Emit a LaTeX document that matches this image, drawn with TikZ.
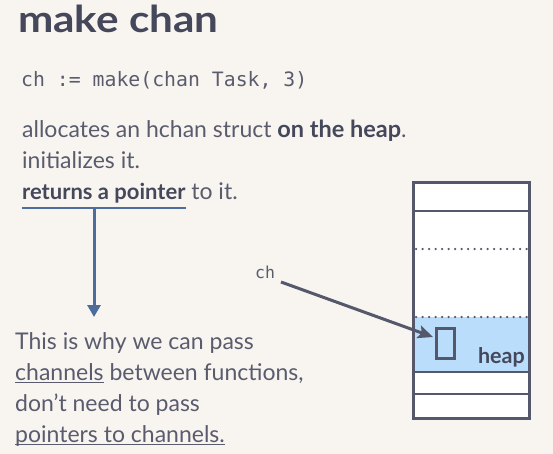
\documentclass[tikz,border=0pt]{standalone}
\usepackage{fontspec}
\setmainfont{Lato}
\newfontfamily\codefont{DejaVu Sans Mono}
\newfontfamily\titlefont[FakeStretch=1.14]{Lato}
\usetikzlibrary{arrows.meta}
\definecolor{bg}{HTML}{F8F5F0}
\definecolor{txt}{HTML}{5A5C6E}
\definecolor{dark}{HTML}{45475A}
\definecolor{accent}{HTML}{4D6E9C}
\definecolor{heapblue}{HTML}{B9DDFB}
\definecolor{memline}{HTML}{55576A}
\newcommand\myul[1]{\setbox0\hbox{#1}\rlap{\rule[-3pt]{\wd0}{1.2pt}}\box0\relax}
\newcommand\bt[2][22]{{\fontsize{#1}{26}\selectfont\bfseries\color{dark}#2}}
\begin{document}
\begin{tikzpicture}[x=1pt,y=-1pt,
  txtline/.style={anchor=base west, inner sep=0pt, text=txt, font=\fontsize{23}{27}\selectfont},
  codeline/.style={anchor=base west, inner sep=0pt, text=txt, font=\codefont\fontsize{19.8}{24}\selectfont},
  solidsep/.style={draw=memline, line width=2pt},
  dotsep/.style={draw=memline, line width=2.5pt, line cap=round, dash pattern=on 0pt off 6.5pt},
  ptr/.style={draw=memline, line width=3pt, -{Stealth[length=15pt,width=13pt,inset=3pt]}},
  down/.style={draw=accent, line width=3pt, -{Triangle[length=12pt,width=13pt]}}]
\fill[bg] (0,0) rectangle (553,454);
\useasboundingbox (0,0) rectangle (553,454);

% title and code
\node[anchor=base west, inner sep=0pt, text=dark, font=\titlefont\fontsize{37}{44}\selectfont\bfseries] (title) at (18,33) {make chan};
\node[codeline] (code) at (21,87) {ch := make(chan Task, 3)};

% explanation
\node[txtline] (l1) at (22,138) {allocates an hchan struct \bt[23.5]{on the heap}.};
\node[txtline] (l2) at (22,169) {initializes it.};
\node[txtline] (l3) at (22,200) {\bt{returns a pointer} to it.};

\coordinate (ulA) at (22,208);
\coordinate (ulB) at (186,208);
\coordinate (ulM) at (94,208);
\draw[accent, line width=2.6pt] (ulA) -- (ulB);

% bottom text
\node[txtline] (b1) at (15,349) {This is why we can pass};
\node[txtline] (b2) at (15,380) {\myul{channels} between functions,};
\node[txtline] (b3) at (15,411) {don’t need to pass};
\node[txtline] (b4) at (15,442) {\myul{pointers to channels.}};
\coordinate (arrEnd) at (94,317);
\draw[down] (ulM) -- (arrEnd);

% memory column
\fill[white] (413,183) rectangle (529,418);
\fill[heapblue] (413,317) rectangle (529,372);
\draw[solidsep] (413,211) -- (529,211);
\draw[dotsep] (416,249) -- (529,249);
\draw[dotsep] (416,317) -- (529,317);
\draw[solidsep] (413,372) -- (529,372);
\draw[solidsep] (413,394) -- (529,394);
\node[draw=memline, line width=3pt, minimum width=116pt, minimum height=235pt, inner sep=0pt] (mem) at (471,300.5) {};
\node[draw=memline, line width=3pt, minimum width=18pt, minimum height=30pt, inner sep=0pt] (slot) at (445,343.5) {};
\node[anchor=base east, inner sep=0pt, text=dark, font=\fontsize{21.5}{26}\selectfont\bfseries] (heap) at (525,363) {heap};

% pointer
\node[anchor=base west, inner sep=0pt, text=txt, font=\codefont\fontsize{16.5}{20}\selectfont] (ch) at (255,278) {ch};
\coordinate (chTail) at (281,282);
\coordinate (slotTip) at (433,337);
\draw[ptr] (chTail) -- (slotTip);
\end{tikzpicture}
\end{document}
